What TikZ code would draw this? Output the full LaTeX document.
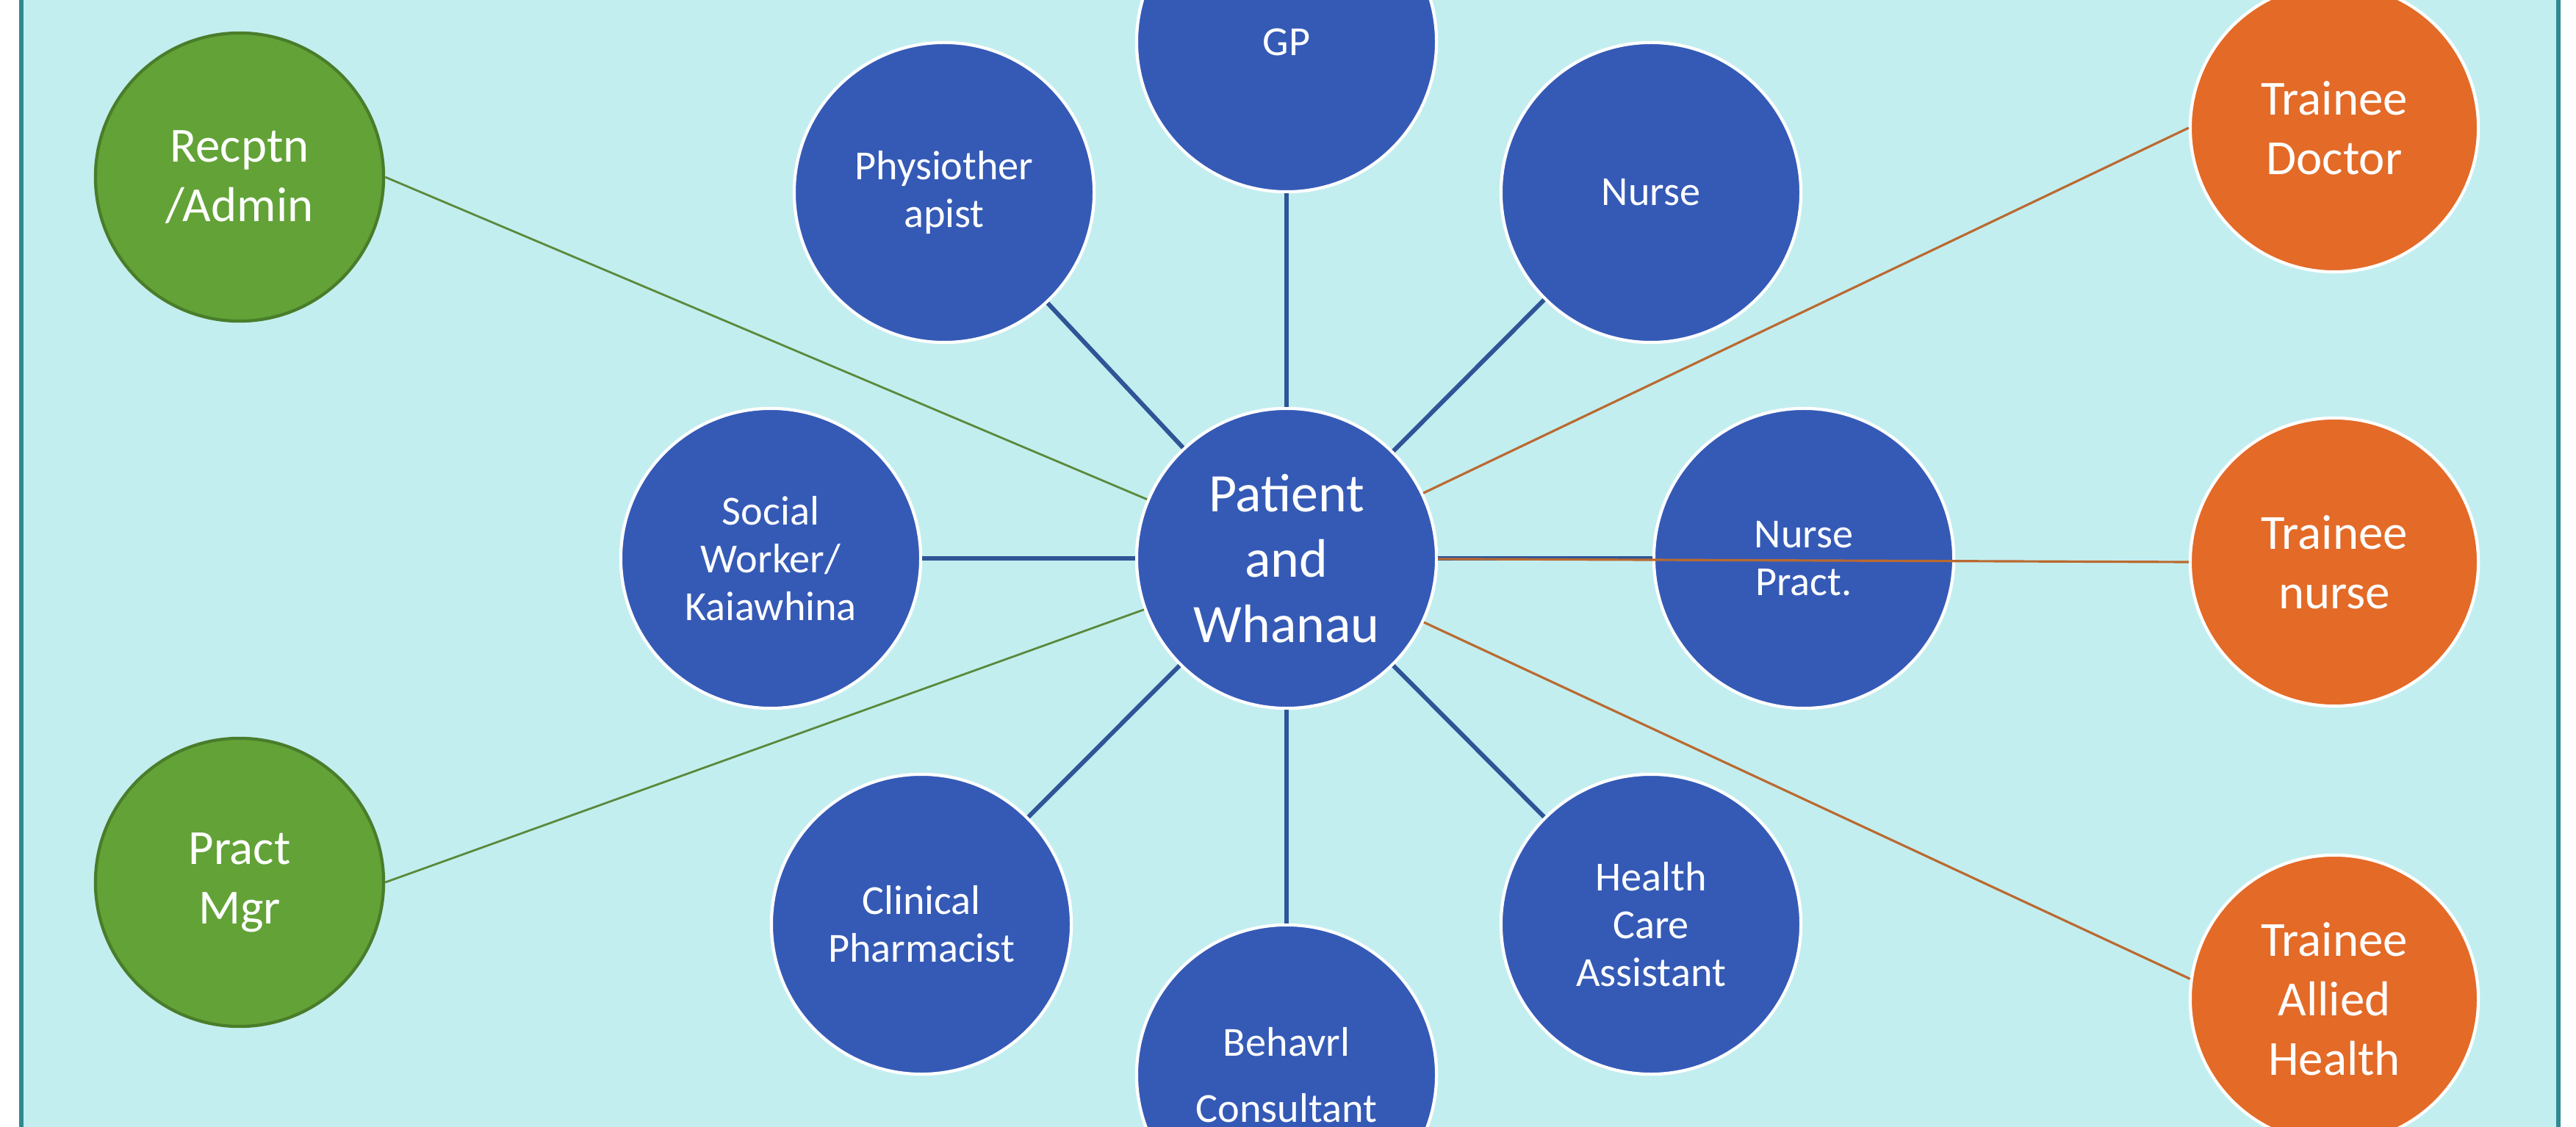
\documentclass[tikz,border=0pt]{standalone}
\usepackage{fontspec}
\setmainfont{Carlito}
\definecolor{bgcyan}{HTML}{C3EEF0}
\definecolor{framecol}{HTML}{2E8A90}
\definecolor{teamblue}{HTML}{355AB6}
\definecolor{spokeblue}{HTML}{2F5597}
\definecolor{admingreen}{HTML}{62A237}
\definecolor{admindark}{HTML}{4A7D2A}
\definecolor{linegreen}{HTML}{5A8A3C}
\definecolor{traineeorange}{HTML}{E36A27}
\definecolor{linebrown}{HTML}{BA6A30}
\begin{document}
\begin{tikzpicture}[x=0.01cm, y=-0.01cm]
  \tikzstyle{team} = [circle, draw=white, line width=1.2pt, fill=teamblue, text=white, minimum size=4.08cm, align=center, inner sep=1pt, font=\fontsize{16}{18.5}\selectfont]
  \tikzstyle{admin} = [circle, draw=admindark, line width=1.2pt, fill=admingreen, text=white, minimum size=3.92cm, align=center, inner sep=1pt, font=\fontsize{19}{23}\selectfont]
  \tikzstyle{trainee} = [circle, draw=white, line width=1.2pt, fill=traineeorange, text=white, minimum size=3.92cm, align=center, inner sep=1pt, font=\fontsize{19}{23}\selectfont]
  \tikzstyle{spoke} = [spokeblue, line width=1.7pt]
  \tikzstyle{greenlink} = [linegreen, line width=0.8pt]
  \tikzstyle{brownlink} = [linebrown, line width=0.9pt]
  \clip (0,0) rectangle (3506,1534);
  \fill[white] (0,0) rectangle (3506,1534);
  \fill[bgcyan, draw=framecol, line width=1.7pt] (29,-40) rectangle (3482,1580);
  % core team round the patient
  \node[team, font=\fontsize{21}{25.3}\selectfont] (pat) at (1751, 760) {Patient\\and\\Whanau};
  \node[team] (gp) at (1751, 57) {GP};
  \node[team] (physio) at (1285, 262) {Physiother\\apist};
  \node[team] (nurse) at (2247, 262) {Nurse};
  \node[team] (social) at (1049, 760) {Social\\Worker/\\Kaiawhina};
  \node[team] (np) at (2455, 760) {Nurse\\Pract.};
  \node[team] (pharm) at (1254, 1258) {Clinical\\Pharmacist};
  \node[team] (hca) at (2247, 1258) {Health\\Care\\Assistant};
  \node[team] (behav) at (1751, 1463) {Behavrl\\[7pt]Consultant};
  % admin and trainees
  \node[admin] (recep) at (326, 241) {Recptn\\/Admin};
  \node[admin] (mgr) at (326, 1201) {Pract\\Mgr};
  \node[trainee] (tdoc) at (3177, 174) {Trainee\\Doctor};
  \node[trainee] (tnurse) at (3177, 765) {Trainee\\nurse};
  \node[trainee] (tallied) at (3177, 1360) {Trainee\\Allied\\Health};
  \draw[spoke] (pat) -- (gp);
  \draw[spoke] (pat) -- (physio);
  \draw[spoke] (pat) -- (nurse);
  \draw[spoke] (pat) -- (social);
  \draw[spoke] (pat) -- (np);
  \draw[spoke] (pat) -- (pharm);
  \draw[spoke] (pat) -- (hca);
  \draw[spoke] (pat) -- (behav);
  \draw[greenlink] (recep.east) -- (pat);
  \draw[greenlink] (mgr.east) -- (pat);
  \draw[brownlink] (tdoc.west) -- (pat);
  \draw[brownlink] (tnurse.west) -- (pat);
  \draw[brownlink] (tallied.172) -- (pat);
\end{tikzpicture}
\end{document}
